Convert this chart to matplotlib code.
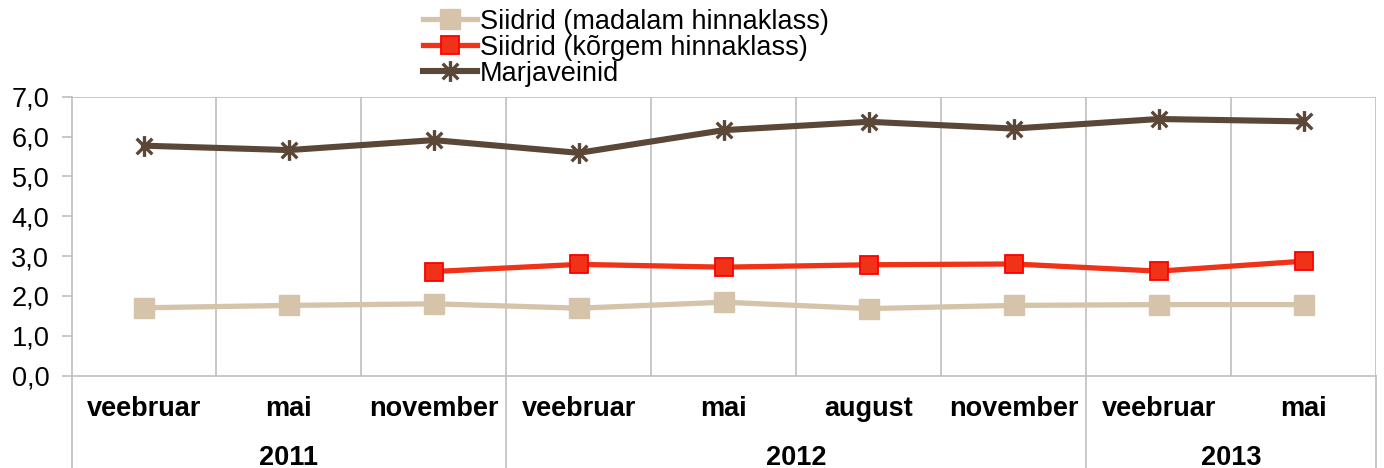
import matplotlib
matplotlib.use("Agg")
import matplotlib.pyplot as plt
from matplotlib.path import Path
import matplotlib.transforms as mtransforms
import numpy as np

plt.rcParams['font.family'] = ['Liberation Sans', 'DejaVu Sans']

months = ["veebruar", "mai", "november", "veebruar", "mai", "august", "november", "veebruar", "mai"]
years = ["2011", "2012", "2013"]
year_counts = [3, 4, 2]
yticks = [0, 1, 2, 3, 4, 5, 6, 7]
ytick_labels = ["0,0", "1,0", "2,0", "3,0", "4,0", "5,0", "6,0", "7,0"]

siidrid_madal = [1.70, 1.76, 1.80, 1.69, 1.84, 1.68, 1.76, 1.78, 1.78]
siidrid_korge = [None, None, 2.61, 2.79, 2.72, 2.78, 2.80, 2.62, 2.87]
marjaveinid = [5.77, 5.66, 5.91, 5.59, 6.16, 6.37, 6.20, 6.44, 6.38]

labels = ["Siidrid (madalam hinnaklass)", "Siidrid (kõrgem hinnaklass)", "Marjaveinid"]

FS = 19.5

fig = plt.figure(figsize=(13.84, 4.68), dpi=100)
ax = fig.add_axes([71.5/1384, 1 - 375.5/468, (1376 - 71.5)/1384, (375.5 - 96.7)/468])

x = list(range(len(months)))
grid_c = "#BFBFBF"

# asterisk marker: vertical line + X
star = Path([(0, -1), (0, 1), (-0.75, -0.75), (0.75, 0.75), (-0.75, 0.75), (0.75, -0.75)],
            [Path.MOVETO, Path.LINETO, Path.MOVETO, Path.LINETO, Path.MOVETO, Path.LINETO])

xm = np.array(x, dtype=float)
k = np.array([np.nan if v is None else v for v in siidrid_korge], dtype=float)

ax.plot(xm, siidrid_madal, color="#D5C4AA", lw=3.8, marker="s", ms=14,
        mfc="#D5C4AA", mec="#D5C4AA", label=labels[0], zorder=3)
ax.plot(xm, k, color="#F03318", lw=3.8, marker="s", ms=13.5,
        mfc="#F03318", mec="#FF0000", mew=1.3, label=labels[1], zorder=4)
ax.plot(xm, marjaveinid, color="#5B4737", lw=4.4, marker=star, ms=15, mew=2.4,
        mec="#5B4737", label=labels[2], zorder=5)

ax.set_xlim(-0.5, len(months) - 0.5)
ax.set_ylim(0, 7)
ax.set_yticks(yticks)
ax.set_yticklabels(ytick_labels, fontsize=FS)
ax.tick_params(axis='y', length=7, color=grid_c, width=1.2, pad=9)
ax.set_xticks([])
for i in range(1, len(months)):
    ax.axvline(i - 0.5, color=grid_c, lw=1.2, zorder=1)
for s in ["top", "right", "left", "bottom"]:
    ax.spines[s].set_color(grid_c)
    ax.spines[s].set_linewidth(1.2)
ax.spines["right"].set_visible(False)
ax.spines["top"].set_visible(False)
ax.axhline(7, color=grid_c, lw=1.2, zorder=1)
ax.axvline(len(months) - 0.5, color=grid_c, lw=1.2, zorder=1)

trans = mtransforms.blended_transform_factory(ax.transData, ax.transAxes)
for i, m in enumerate(months):
    ax.text(i, -0.12, m, transform=trans, ha="center", va="center",
            fontsize=FS, fontweight="bold")
start = 0
bounds = [-0.5]
for y, c in zip(years, year_counts):
    ax.text(start + (c - 1) / 2, -0.295, y, transform=trans, ha="center", va="center",
            fontsize=FS, fontweight="bold")
    start += c
    bounds.append(start - 0.5)
for b in bounds:
    ax.plot([b, b], [0, -0.35], transform=trans, color=grid_c, lw=1.2, clip_on=False)

leg = fig.legend(loc="upper left", bbox_to_anchor=(420/1384, 1.0 - 6/468), frameon=False,
                 fontsize=FS, handlelength=2.0, handletextpad=0.12, labelspacing=0.0,
                 borderaxespad=0.0, borderpad=0.1)

fig.savefig("out.png", dpi=100)
